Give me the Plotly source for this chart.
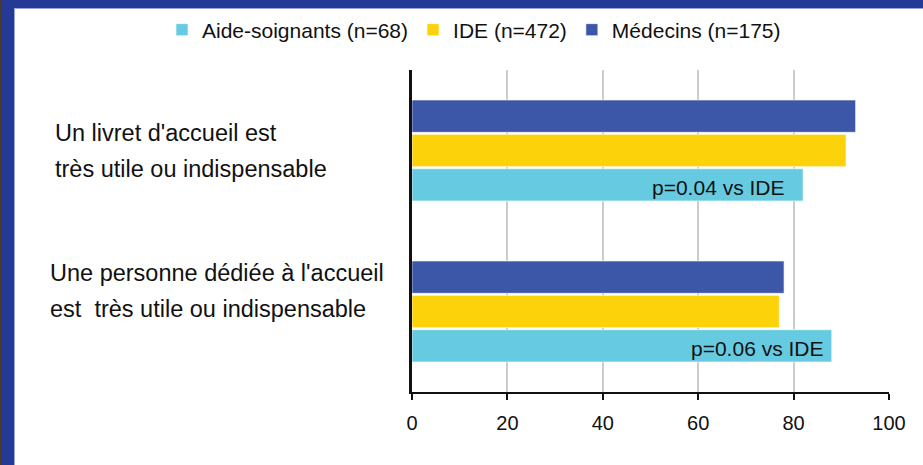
import plotly.graph_objects as go

# Survey results (% of respondents)
categories = ["livret", "personne"]
category_lines = [
    ["Un livret d'accueil est", "très utile ou indispensable"],
    ["Une personne dédiée à l'accueil", "est  très utile ou indispensable"],
]
series_names = ["Aide-soignants (n=68)", "IDE (n=472)", "Médecins (n=175)"]
aide_values = [82, 88]
ide_values = [91, 77]
medecins_values = [93, 78]
pvalue_labels = ["p=0.04 vs IDE", "p=0.06 vs IDE"]
x_ticks = [0, 20, 40, 60, 80, 100]

colors = ["#66CBE0", "#FCD20A", "#3D57A8"]
FONT = "Liberation Sans, Arial, sans-serif"

fig = go.Figure()
for name, vals, col in zip(series_names, [aide_values, ide_values, medecins_values], colors):
    fig.add_trace(go.Bar(
        name=name, y=categories, x=vals, orientation="h",
        marker=dict(color=col, line=dict(color="rgba(255,255,255,0.6)", width=1)),
    ))

# p-value notes inside the Aide-soignants bars
for cat, val, txt, shift in zip(categories, aide_values, pvalue_labels, [-16, -6]):
    fig.add_annotation(
        x=val, y=cat, yref="y", xref="x", text=txt, showarrow=False,
        xanchor="right", xshift=shift, yshift=-37,
        font=dict(family=FONT, size=21, color="#111111"),
    )

# Left-aligned category labels, one annotation per line
for cat, lines, xs, ys in zip(categories, category_lines, [0, -5], [0, -21]):
    for k, line in enumerate(lines):
        fig.add_annotation(
            x=-0.752, xref="paper", y=cat, yref="y", text=line, showarrow=False,
            xanchor="left", align="left", xshift=xs, yshift=18 - 36 * k - ys,
            font=dict(family=FONT, size=23.5, color="#111111"),
        )

# Frame decoration on the top and left edges
W, H = 923, 465
L, R, T, B = 412, 34, 70, 73
pw, ph = W - L - R, H - T - B
def px(x):
    return (x - L) / pw
def py(y):
    return (H - B - y) / ph

fig.add_shape(type="rect", xref="paper", yref="paper", x0=px(0), x1=px(W), y0=py(8), y1=py(0),
              fillcolor="#243A96", line_width=0, layer="above")
fig.add_shape(type="rect", xref="paper", yref="paper", x0=px(0), x1=px(14), y0=py(H), y1=py(0),
              fillcolor="#243A96", line_width=0, layer="above")
fig.add_shape(type="rect", xref="paper", yref="paper", x0=px(0), x1=px(2), y0=py(H), y1=py(0),
              fillcolor="#4A3A2E", line_width=0, layer="above")
fig.add_shape(type="line", xref="paper", yref="paper", x0=px(14.5), x1=px(14.5), y0=py(H), y1=py(8),
              line=dict(color="#9AA6DA", width=1), layer="above")
fig.add_shape(type="line", xref="paper", yref="paper", x0=px(14), x1=px(W), y0=py(8.5), y1=py(8.5),
              line=dict(color="#9AA6DA", width=1), layer="above")

fig.update_layout(
    width=W, height=H,
    margin=dict(l=L, r=R, t=T, b=B, autoexpand=False),
    paper_bgcolor="white", plot_bgcolor="white",
    barmode="group", bargap=0.36, bargroupgap=0.06,
    font=dict(family=FONT, size=18, color="#111111"),
    legend=dict(orientation="h", x=px(162), xanchor="left",
                y=py(30), yanchor="middle",
                bgcolor="rgba(0,0,0,0)",
                font=dict(family=FONT, size=21, color="#111111"),
                itemwidth=30, traceorder="normal"),
    xaxis=dict(range=[0, 100], tickvals=x_ticks, showgrid=True, gridcolor="#CCCCCC", gridwidth=2,
               showline=True, linecolor="#111111", linewidth=2, ticks="outside", ticklen=6,
               tickwidth=2, tickcolor="#111111", zeroline=False, fixedrange=True,
               ticklabelstandoff=6,
               tickfont=dict(family=FONT, size=20, color="#111111")),
    yaxis=dict(categoryorder="array", categoryarray=categories[::-1], showticklabels=False,
               showline=True, linecolor="#111111", linewidth=3, ticks="", showgrid=False),
    showlegend=True,
)

fig.write_html("out.html")
